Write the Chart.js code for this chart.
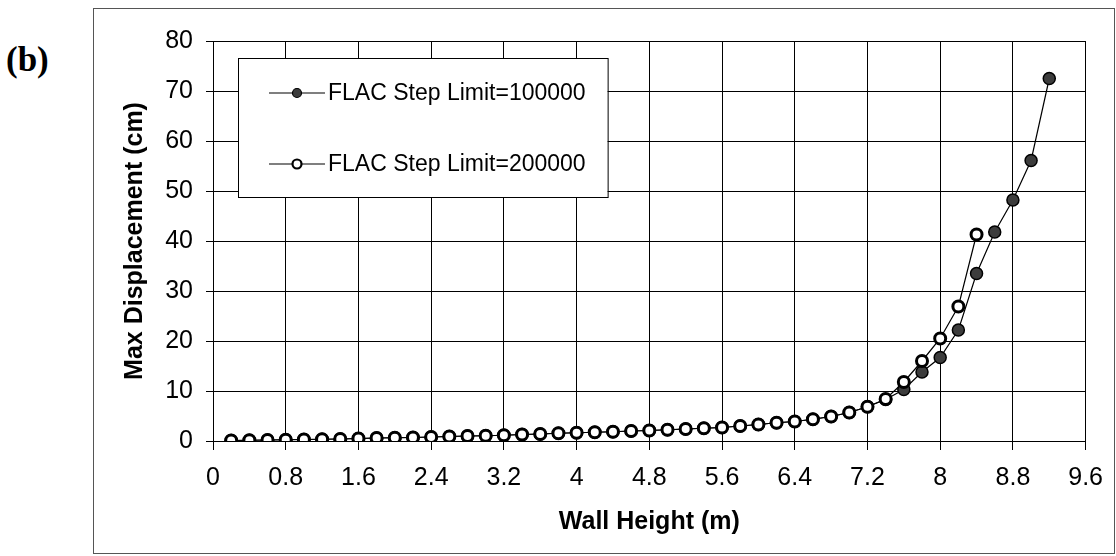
<!DOCTYPE html>
<html>
<head>
<meta charset="utf-8">
<script src="https://cdn.jsdelivr.net/npm/chart.js@4.4.1/dist/chart.umd.min.js"></script>
<style>
    html, body { margin: 0; padding: 0; background: #fff; }
    #wrap { position: relative; width: 1116px; height: 556px; }
    #frame { position: absolute; left: 93px; top: 8px; width: 1022px; height: 546px; border: 1px solid #555; box-sizing: border-box; }
    #tag { position: absolute; left: 6px; top: 40px; font: bold 35px "Liberation Serif", "Times New Roman", serif; }
    #chart { position: absolute; left: 0; top: 0; }
</style>
</head>
<body>
<div id="wrap">
    <div id="frame"></div>
    <div id="tag">(b)</div>
    <canvas id="chart" width="1116" height="556"></canvas>
</div>
<script>
// wall heights (m) for each run
const heights100k = [0.2, 0.4, 0.6, 0.8, 1.0, 1.2, 1.4, 1.6, 1.8, 2.0, 2.2, 2.4, 2.6, 2.8, 3.0, 3.2,
    3.4, 3.6, 3.8, 4.0, 4.2, 4.4, 4.6, 4.8, 5.0, 5.2, 5.4, 5.6, 5.8, 6.0, 6.2, 6.4, 6.6, 6.8,
    7.0, 7.2, 7.4, 7.6, 7.8, 8.0, 8.2, 8.4, 8.6, 8.8, 9.0, 9.2];
const heights200k = [0.2, 0.4, 0.6, 0.8, 1.0, 1.2, 1.4, 1.6, 1.8, 2.0, 2.2, 2.4, 2.6, 2.8, 3.0, 3.2,
    3.4, 3.6, 3.8, 4.0, 4.2, 4.4, 4.6, 4.8, 5.0, 5.2, 5.4, 5.6, 5.8, 6.0, 6.2, 6.4, 6.6, 6.8,
    7.0, 7.2, 7.4, 7.6, 7.8, 8.0, 8.2, 8.4];

// max displacement (cm)
const disp100k = [0.1, 0.15, 0.2, 0.25, 0.3, 0.35, 0.4, 0.5, 0.6, 0.65, 0.7, 0.8, 0.9, 1.0, 1.05, 1.15,
    1.3, 1.4, 1.55, 1.65, 1.75, 1.85, 2.0, 2.1, 2.25, 2.4, 2.55, 2.7, 3.0, 3.3, 3.65, 3.9, 4.35, 4.9,
    5.7, 6.85, 8.3, 10.3, 13.8, 16.7, 22.2, 33.5, 41.8, 48.2, 56.1, 72.5];
const disp200k = [0.1, 0.15, 0.2, 0.25, 0.3, 0.35, 0.4, 0.5, 0.6, 0.65, 0.7, 0.8, 0.9, 1.0, 1.05, 1.15,
    1.3, 1.4, 1.55, 1.65, 1.75, 1.85, 2.0, 2.1, 2.25, 2.4, 2.55, 2.7, 3.0, 3.3, 3.65, 3.9, 4.35, 4.9,
    5.7, 6.85, 8.4, 11.8, 16.0, 20.5, 26.9, 41.3];

const seriesLabels = ['FLAC Step Limit=100000', 'FLAC Step Limit=200000'];
const xTitle = 'Wall Height (m)';
const yTitle = 'Max Displacement (cm)';

const FONT = 'Arial, "Liberation Sans", sans-serif';
Chart.defaults.font.family = FONT;
Chart.defaults.color = '#000';

function toPoints(xs, ys) {
    return xs.map((x, i) => ({ x: x, y: ys[i] }));
}

// legend drawn inside the plot, boxed, like the original
const boxLegend = {
    id: 'boxLegend',
    afterDraw(chart) {
        const ctx = chart.ctx;
        const left = 238, top = 58, height = 139;
        ctx.save();
        ctx.font = '23px ' + FONT;
        let textW = 0;
        chart.data.datasets.forEach(ds => { textW = Math.max(textW, ctx.measureText(ds.label).width); });
        const width = 90 + textW + 22;
        ctx.fillStyle = '#fff';
        ctx.fillRect(left, top, width, height);
        ctx.strokeStyle = '#000';
        ctx.lineWidth = 1;
        ctx.strokeRect(left + 0.5, top + 0.5, width, height);

        const rows = [93, 164];
        chart.data.datasets.forEach((ds, i) => {
            const y = rows[i];
            ctx.strokeStyle = '#000';
            ctx.lineWidth = 1.2;
            ctx.beginPath();
            ctx.moveTo(269, y);
            ctx.lineTo(325, y);
            ctx.stroke();
            ctx.beginPath();
            ctx.arc(297, y, 4.5, 0, Math.PI * 2);
            ctx.fillStyle = ds.pointBackgroundColor;
            ctx.fill();
            ctx.lineWidth = ds.pointBorderWidth > 2 ? 2.2 : 1.2;
            ctx.stroke();
            ctx.fillStyle = '#000';
            ctx.textBaseline = 'middle';
            ctx.fillText(ds.label, 328, y + 1);
        });
        ctx.restore();
    }
};

new Chart(document.getElementById('chart'), {
    type: 'line',
    data: {
        datasets: [{
            label: seriesLabels[0],
            data: toPoints(heights100k, disp100k),
            borderColor: '#000',
            borderWidth: 1.2,
            pointBackgroundColor: '#3c3c3c',
            pointBorderColor: '#000',
            pointBorderWidth: 1.5,
            pointRadius: 6,
            order: 1
        }, {
            label: seriesLabels[1],
            data: toPoints(heights200k, disp200k),
            borderColor: '#000',
            borderWidth: 1.2,
            pointBackgroundColor: '#fff',
            pointBorderColor: '#000',
            pointBorderWidth: 3,
            pointRadius: 5.5,
            order: 0
        }]
    },
    options: {
        responsive: false,
        animation: false,
        layout: { padding: { left: 115, right: 28, top: 41, bottom: 15 } },
        plugins: {
            legend: { display: false },
            tooltip: { enabled: false }
        },
        scales: {
            x: {
                type: 'linear',
                min: 0,
                max: 9.6,
                afterFit(scale) { scale.height = 100; },
                ticks: {
                    stepSize: 0.8,
                    padding: 13,
                    font: { size: 25 },
                    callback: v => String(Math.round(v * 10) / 10)
                },
                grid: { color: '#000', lineWidth: 1, tickLength: 9 },
                border: { color: '#000' },
                title: {
                    display: true,
                    text: xTitle,
                    font: { size: 25, weight: 'bold' },
                    padding: { top: 0, bottom: 4 }
                }
            },
            y: {
                min: 0,
                max: 80,
                afterFit(scale) { scale.width = 98; },
                ticks: {
                    stepSize: 10,
                    padding: 13,
                    font: { size: 25 }
                },
                grid: { color: '#000', lineWidth: 1, tickLength: 7 },
                border: { color: '#000' },
                title: {
                    display: true,
                    text: yTitle,
                    font: { size: 25, weight: 'bold' },
                    padding: { top: 5, bottom: 0 }
                }
            }
        }
    },
    plugins: [boxLegend]
});
</script>
</body>
</html>
